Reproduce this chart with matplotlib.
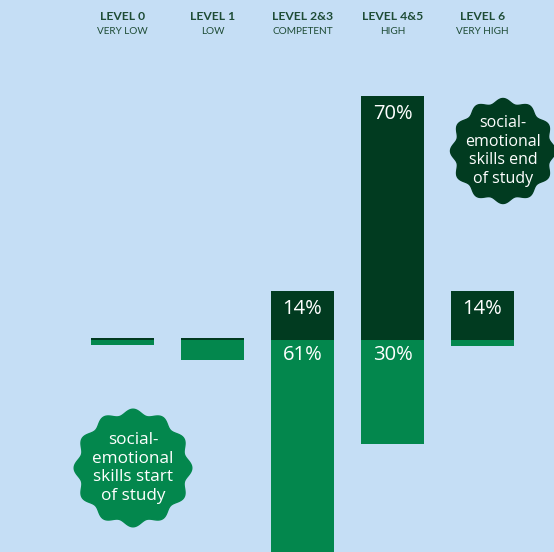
import numpy as np
import matplotlib.pyplot as plt
from matplotlib.patches import Polygon
from matplotlib.transforms import Affine2D, blended_transform_factory

# 数据
levels = ["LEVEL 0", "LEVEL 1", "LEVEL 2&3", "LEVEL 4&5", "LEVEL 6"]
level_desc = ["VERY LOW", "LOW", "COMPETENT", "HIGH", "VERY HIGH"]
start_pct = [1.5, 6, 61, 30, 2]      # start of study (below baseline)
end_pct = [0.3, 0.3, 14, 70, 14]     # end of study (above baseline)

bg = "#C5DEF5"
dark = "#013B20"
mid = "#03874D"
head = "#1E4C36"

W, H = 554, 552
fig = plt.figure(figsize=(W / 100, H / 100), dpi=100, facecolor=bg)
ax = fig.add_axes([0, 0, 1, 1])
ax.set_facecolor(bg)

x = np.arange(len(levels))
px_x = 90.0      # pixels per category
px_y = 3.48      # pixels per percent
x0, base = 122.5, 339.5
ax.set_xlim(-x0 / px_x, (W - x0) / px_x)
ax.set_ylim(-(H - base) / px_y, base / px_y)
ax.axis("off")

bw = 0.71
ax.bar(x, [-v for v in start_pct], width=bw, color=mid, zorder=2)
ax.bar(x, end_pct, width=bw, color=dark, zorder=3)

for i in x:
    if end_pct[i] >= 10:
        ax.text(i, end_pct[i] - 18 / px_y, f"{end_pct[i]:.0f}%", ha="center", va="center",
                color="white", fontsize=14.5, family="Open Sans", fontweight="medium", zorder=4)
    if start_pct[i] >= 10:
        ax.text(i, -15 / px_y, f"{start_pct[i]:.0f}%", ha="center", va="center",
                color="white", fontsize=14.5, family="Open Sans", fontweight="medium", zorder=4)

# 顶部标题
tr = blended_transform_factory(ax.transData, fig.transFigure)
for i in x:
    ax.text(i, 1 - 17 / H, levels[i], transform=tr, ha="center", va="center",
            fontsize=8.7, fontweight="bold", color=head, family="Lato")
    ax.text(i, 1 - 31.5 / H, level_desc[i], transform=tr, ha="center", va="center",
            fontsize=7.2, color=head, family="Lato")

# 波浪形徽章 (pixel coords from top-left)
pix = Affine2D().scale(1 / W, -1 / H).translate(0, 1) + fig.transFigure


def badge(cx, cy, r, color, text, fs):
    t = np.linspace(0, 2 * np.pi, 600)
    rr = r + r * 0.05 * np.cos(12 * t)
    pts = np.column_stack([cx + rr * np.cos(t), cy + rr * np.sin(t)])
    fig.patches.append(Polygon(pts, closed=True, transform=pix, color=color, zorder=5))
    fig.text(cx / W, 1 - cy / H, text, ha="center", va="center", color="white",
             fontsize=fs, family="Open Sans", fontweight="medium", linespacing=1.2, zorder=6)


badge(503, 151, 50, dark, "social-\nemotional\nskills end\nof study", 11.5)
badge(133, 468, 56, mid, "social-\nemotional\nskills start\nof study", 12.3)

fig.savefig("out.png", dpi=100, facecolor=bg)
